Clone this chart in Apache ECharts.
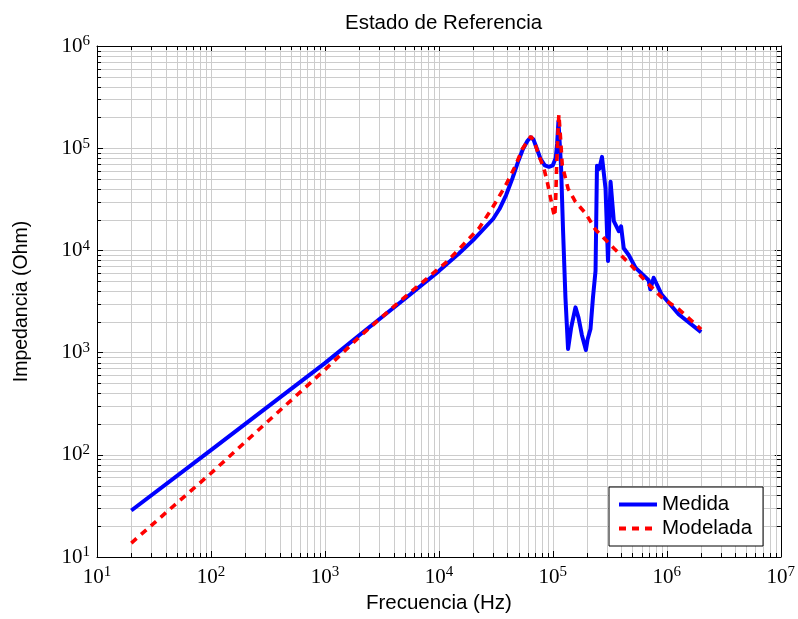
<!DOCTYPE html>
<html><head><meta charset="utf-8">
<script src="https://cdn.jsdelivr.net/npm/echarts@6/dist/echarts.min.js"></script>
<style>html,body{margin:0;padding:0;background:#fff}#c{width:798px;height:619px}</style>
</head><body><div id="c"></div>
<script>
// ---- data ----
const medidaFreq = [20, 100, 1000, 2000, 5000, 10000, 15000, 20000, 30000, 34000, 38900, 44200, 50000, 54700, 60000, 64000, 67500, 71000, 78000, 85000, 92500, 100000, 106000, 109000, 112000, 118000, 123000, 129000, 136000, 145000, 158000, 168000, 180000, 195000, 202000, 214000, 225000, 237000, 241000, 244000, 256000, 270000, 290000, 305000, 321000, 343000, 379000, 397000, 419000, 463000, 533000, 693000, 717000, 767000, 902000, 1270000, 2000000];
const medidaZ    = [28.5, 111, 789, 1476, 3350, 6270, 9330, 12600, 20400, 25400, 34800, 50700, 75900, 98400, 118300, 128000, 122000, 105000, 78500, 68000, 65700, 68000, 80000, 110000, 184000, 67100, 15400, 3460, 1085, 1770, 2770, 2200, 1480, 1060, 1350, 1700, 3460, 6310, 25000, 67300, 62900, 82200, 40300, 7890, 47000, 19300, 15400, 17200, 10500, 9020, 6740, 5100, 4160, 5400, 3700, 2370, 1585];
const modeladaFreq = [20, 100, 400, 1000, 2000, 4500, 11900, 22500, 29300, 38000, 41300, 47200, 54000, 61800, 64300, 70700, 75700, 83600, 89400, 95700, 101000, 104000, 106000, 108000, 111000, 113000, 117000, 121000, 136000, 158000, 194000, 237000, 343000, 495000, 649000, 906000, 1270000, 2000000];
const modeladaZ    = [13.7, 66, 270, 680, 1420, 3150, 7830, 16500, 25800, 42100, 50300, 68200, 98200, 122700, 131000, 105700, 84500, 62900, 46800, 32200, 23900, 21400, 32200, 67600, 143600, 214000, 122700, 67600, 40300, 29900, 23000, 15900, 10500, 7010, 5020, 3460, 2660, 1690];
const xDecades = [10, 100, 1000, 10000, 100000, 1000000, 10000000];
const yDecades = [10, 100, 1000, 10000, 100000, 1000000];
const seriesNames = ['Medida', 'Modelada'];
const titleText = 'Estado de Referencia';
const xName = 'Frecuencia (Hz)';
const yName = 'Impedancia (Ohm)';

// ---- build ----
const medida = medidaFreq.map((f, i) => [f, medidaZ[i]]);
const modelada = modeladaFreq.map((f, i) => [f, modeladaZ[i]]);
const minor = [];
xDecades.slice(0, -1).forEach(d => { for (let k = 2; k <= 9; k++) minor.push([d * k, yDecades[0], 0]); });
yDecades.slice(0, -1).forEach(d => { for (let k = 2; k <= 9; k++) minor.push([xDecades[0], d * k, 1]); });

const GRID = '#cccccc';
const labelFmt = v => '{b|10}{s|' + Math.round(Math.log10(v)) + '}';
const richLab = {
  b: {fontSize: 21, fontFamily: 'Liberation Serif', color: '#000'},
  s: {fontSize: 15, fontFamily: 'Liberation Serif', color: '#000', verticalAlign: 'bottom', padding: [0, 0, 9, 0]}
};
const sans = 'Liberation Sans';

function renderMinor(params, api) {
  const cs = params.coordSys;
  const kind = api.value(2);
  const p = api.coord([api.value(0), api.value(1)]);
  const g = {stroke: GRID, lineWidth: 1};
  const t = {stroke: '#000', lineWidth: 1};
  if (kind === 0) {
    const x = Math.round(p[0]) + 0.5;
    const y0 = cs.y, y1 = cs.y + cs.height;
    return {type: 'group', children: [
      {type: 'line', shape: {x1: x, y1: y0, x2: x, y2: y1}, style: g},
      {type: 'line', shape: {x1: x, y1: y1, x2: x, y2: y1 - 4}, style: t},
      {type: 'line', shape: {x1: x, y1: y0, x2: x, y2: y0 + 4}, style: t}
    ]};
  }
  const y = Math.round(p[1]) + 0.5;
  const x0 = cs.x, x1 = cs.x + cs.width;
  return {type: 'group', children: [
    {type: 'line', shape: {x1: x0, y1: y, x2: x1, y2: y}, style: g},
    {type: 'line', shape: {x1: x0, y1: y, x2: x0 + 4, y2: y}, style: t},
    {type: 'line', shape: {x1: x1, y1: y, x2: x1 - 4, y2: y}, style: t}
  ]};
}

const baseAxis = {
  type: 'log', logBase: 10,
  axisLine: {show: true, onZero: false, lineStyle: {color: '#000', width: 1}},
  axisTick: {show: true, inside: true, length: 6, lineStyle: {color: '#000'}},
  minorTick: {show: false},
  splitLine: {show: false},
};

const chart = echarts.init(document.getElementById('c'), null, {renderer: 'canvas'});
chart.setOption({
  animation: false,
  backgroundColor: '#fff',
  title: {text: titleText, left: 340, top: 8, textStyle: {fontFamily: sans, fontSize: 20.5, fontWeight: 'normal', color: '#000'}},
  grid: {left: 97, right: 15, top: 46, bottom: 57, containLabel: false},
  legend: {
    data: seriesNames, orient: 'vertical', left: 609, top: 487,
    backgroundColor: '#fff', borderColor: '#000', borderWidth: 1,
    padding: [7, 11, 7, 8], itemGap: 3, itemWidth: 38, itemHeight: 14,
    itemStyle: {opacity: 0},
    lineStyle: {width: 4},
    textStyle: {fontFamily: sans, fontSize: 20.5, color: '#000'}
  },
  xAxis: [
    Object.assign({}, baseAxis, {
      position: 'bottom', min: xDecades[0], max: xDecades[xDecades.length - 1],
      splitLine: {show: true, lineStyle: {color: GRID, width: 1}},
      axisLabel: {formatter: labelFmt, rich: richLab, margin: 8},
      name: xName, nameLocation: 'middle', nameGap: 36,
      nameTextStyle: {fontFamily: sans, fontSize: 20.5, color: '#000'}
    }),
    Object.assign({}, baseAxis, {
      position: 'top', min: xDecades[0], max: xDecades[xDecades.length - 1],
      axisLabel: {show: false}
    })
  ],
  yAxis: [
    Object.assign({}, baseAxis, {
      position: 'left', min: yDecades[0], max: yDecades[yDecades.length - 1],
      splitLine: {show: true, lineStyle: {color: GRID, width: 1}},
      axisLabel: {formatter: labelFmt, rich: richLab, margin: 7},
      name: yName, nameLocation: 'middle', nameGap: 65, nameRotate: 90,
      nameTextStyle: {fontFamily: sans, fontSize: 19.5, color: '#000'}
    }),
    Object.assign({}, baseAxis, {
      position: 'right', min: yDecades[0], max: yDecades[yDecades.length - 1],
      axisLabel: {show: false}
    })
  ],
  series: [
    {
      type: 'custom', name: 'minorgrid', silent: true, z: 1,
      xAxisIndex: 0, yAxisIndex: 0, renderItem: renderMinor,
      encode: {x: 0, y: 1}, data: minor, clip: false
    },
    {
      type: 'line', name: seriesNames[0], data: medida, z: 3,
      xAxisIndex: 0, yAxisIndex: 0,
      symbol: 'none', showSymbol: false,
      lineStyle: {color: '#0000ff', width: 4, join: 'round'},
      itemStyle: {color: '#0000ff'}
    },
    {
      type: 'line', name: seriesNames[1], data: modelada, z: 4,
      xAxisIndex: 0, yAxisIndex: 0,
      symbol: 'none', showSymbol: false,
      lineStyle: {color: '#ff0000', width: 3.6, type: [7, 6]},
      itemStyle: {color: '#ff0000'}
    }
  ]
});
</script>
</body></html>
